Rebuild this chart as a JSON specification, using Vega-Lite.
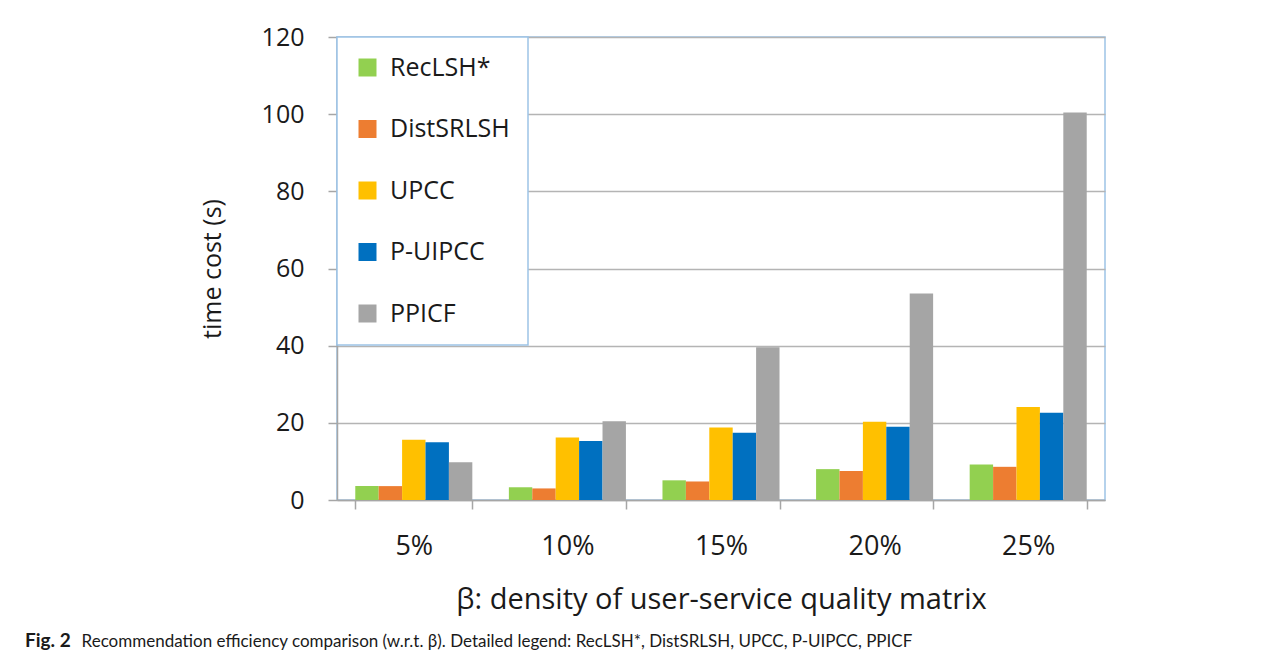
{
  "$schema": "https://vega.github.io/schema/vega-lite/v6.json",
  "autosize": {"type": "none"},
  "width": 768,
  "height": 463,
  "padding": {"left": 337, "top": 37, "right": 182, "bottom": 160},
  "background": "white",
  "data": {"values": [
    {"beta": "5%", "method": "RecLSH*", "time": 3.6},
    {"beta": "5%", "method": "DistSRLSH", "time": 3.6},
    {"beta": "5%", "method": "UPCC", "time": 15.6},
    {"beta": "5%", "method": "P-UIPCC", "time": 15.0},
    {"beta": "5%", "method": "PPICF", "time": 9.8},
    {"beta": "10%", "method": "RecLSH*", "time": 3.3},
    {"beta": "10%", "method": "DistSRLSH", "time": 3.0},
    {"beta": "10%", "method": "UPCC", "time": 16.2},
    {"beta": "10%", "method": "P-UIPCC", "time": 15.3},
    {"beta": "10%", "method": "PPICF", "time": 20.4},
    {"beta": "15%", "method": "RecLSH*", "time": 5.1},
    {"beta": "15%", "method": "DistSRLSH", "time": 4.8},
    {"beta": "15%", "method": "UPCC", "time": 18.8},
    {"beta": "15%", "method": "P-UIPCC", "time": 17.4},
    {"beta": "15%", "method": "PPICF", "time": 39.6},
    {"beta": "20%", "method": "RecLSH*", "time": 8.0},
    {"beta": "20%", "method": "DistSRLSH", "time": 7.5},
    {"beta": "20%", "method": "UPCC", "time": 20.3},
    {"beta": "20%", "method": "P-UIPCC", "time": 19.0},
    {"beta": "20%", "method": "PPICF", "time": 53.5},
    {"beta": "25%", "method": "RecLSH*", "time": 9.2},
    {"beta": "25%", "method": "DistSRLSH", "time": 8.6},
    {"beta": "25%", "method": "UPCC", "time": 24.1},
    {"beta": "25%", "method": "P-UIPCC", "time": 22.6},
    {"beta": "25%", "method": "PPICF", "time": 100.4}
  ]},
  "title": {
    "text": "Fig. 2",
    "subtitle": "\u200b\u00a0\u00a0\u00a0\u00a0\u00a0\u00a0\u00a0\u00a0\u00a0\u00a0\u00a0\u00a0\u00a0Recommendation efficiency comparison (w.r.t. β). Detailed legend: RecLSH*, DistSRLSH, UPCC, P-UIPCC, PPICF",
    "orient": "bottom",
    "anchor": "start",
    "frame": "group",
    "dx": -312,
    "offset": 18,
    "font": "Lato",
    "fontSize": 19,
    "fontWeight": "bold",
    "color": "#1a1a1a",
    "subtitleFont": "Lato",
    "subtitleFontSize": 17,
    "subtitleFontWeight": "normal",
    "subtitleColor": "#1a1a1a",
    "subtitlePadding": -17.5
  },
  "mark": {"type": "bar"},
  "encoding": {
    "x": {
      "field": "beta",
      "type": "nominal",
      "sort": ["5%", "10%", "15%", "20%", "25%"],
      "scale": {"paddingInner": 0.238, "paddingOuter": 0.119},
      "axis": {
        "title": "β: density of user-service quality matrix",
        "labelAngle": 0,
        "labelFont": "Open Sans",
        "labelFontSize": 27,
        "labelColor": "#1a1a1a",
        "labelPadding": 24,
        "tickBand": "extent",
        "tickSize": 9,
        "tickColor": "#a6a6a6",
        "tickWidth": 1.5,
        "domainColor": "#a6a6a6",
        "domainWidth": 1.5,
        "grid": false,
        "titleFont": "Open Sans",
        "titleFontSize": 29,
        "titleFontWeight": "normal",
        "titleColor": "#1a1a1a",
        "titlePadding": 26
      }
    },
    "xOffset": {
      "field": "method",
      "type": "nominal",
      "sort": ["RecLSH*", "DistSRLSH", "UPCC", "P-UIPCC", "PPICF"],
      "scale": {"paddingInner": 0, "paddingOuter": 0}
    },
    "y": {
      "field": "time",
      "type": "quantitative",
      "scale": {"domain": [0, 120], "nice": false},
      "axis": {
        "title": "time cost (s)",
        "values": [0, 20, 40, 60, 80, 100, 120],
        "labelFont": "Open Sans",
        "labelFontSize": 25,
        "labelColor": "#1a1a1a",
        "labelPadding": 24,
        "tickSize": 9,
        "tickColor": "#a6a6a6",
        "tickWidth": 1.5,
        "domainColor": "#a6a6a6",
        "domainWidth": 1.5,
        "grid": true,
        "gridColor": "#b4b4b4",
        "gridWidth": 1.5,
        "titleFont": "Open Sans",
        "titleFontSize": 25,
        "titleFontWeight": "normal",
        "titleColor": "#1a1a1a",
        "titlePadding": 36
      }
    },
    "color": {
      "field": "method",
      "type": "nominal",
      "scale": {
        "domain": ["RecLSH*", "DistSRLSH", "UPCC", "P-UIPCC", "PPICF"],
        "range": ["#92d050", "#ed7d31", "#ffc000", "#0070c0", "#a5a5a5"]
      },
      "legend": {
        "title": null,
        "orient": "top-left",
        "offset": 0,
        "symbolType": "square",
        "symbolSize": 324,
        "symbolStrokeWidth": 0,
        "labelFont": "Open Sans",
        "labelFontSize": 25,
        "labelColor": "#1a1a1a",
        "labelOffset": 10,
        "rowPadding": 35.5,
        "padding": 18,
        "strokeColor": "#9dc3e6",
        "fillColor": "white"
      }
    }
  },
  "config": {
    "view": {"stroke": "#9dc3e6", "strokeWidth": 1.5},
    "legend": {"strokeWidth": 1.5}
  }
}
